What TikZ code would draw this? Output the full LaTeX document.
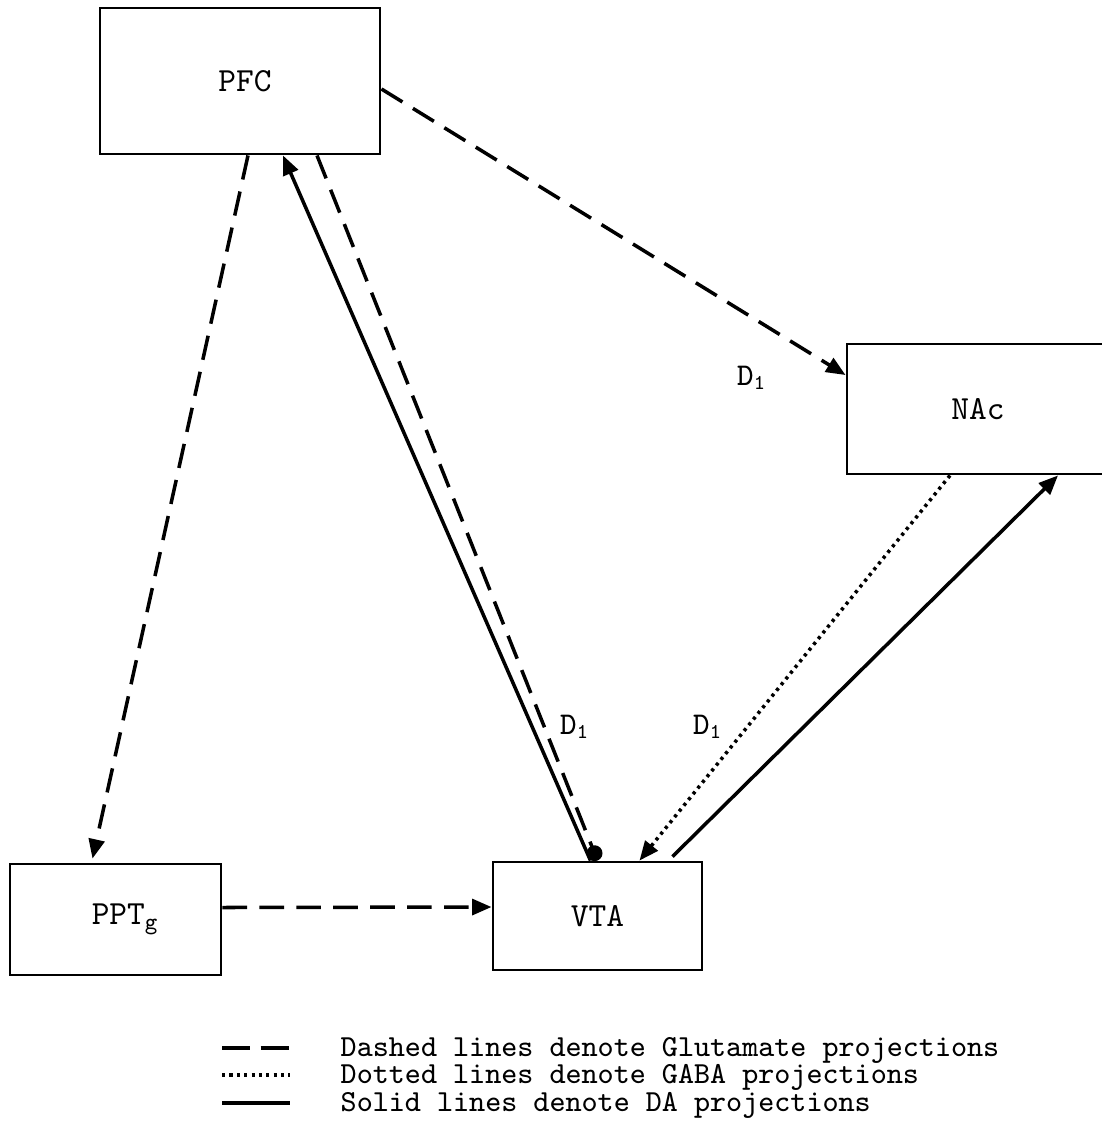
\documentclass[tikz,border=0pt]{standalone}
\usepackage{fontspec}
\usetikzlibrary{arrows.meta,calc}

\tikzset{
  region/.style={draw,thick,rectangle,inner sep=0pt,font=\ttfamily\fontsize{9.6}{11}\selectfont},
  lbl/.style={inner sep=0pt,font=\ttfamily\fontsize{9}{10}\selectfont},
  legendtext/.style={inner sep=0pt,anchor=west,font=\ttfamily\fontsize{8.7}{10}\selectfont},
  glu/.style={line width=1pt,dash pattern=on 7pt off 3.5pt},
  gaba/.style={line width=1pt,dash pattern=on 0.9pt off 1.2pt},
  da/.style={line width=1pt},
  tip/.style={-{Triangle[length=5.5pt,width=4.5pt]}}
}

\begin{document}
\begin{tikzpicture}[x=0.01cm,y=-0.01cm]
\useasboundingbox (0,0) rectangle (1102,1123);

\node[region,minimum width=2.8cm,minimum height=1.46cm] (pfc) at (240,81) {\hspace{0.1cm}PFC};
\node[region,minimum width=2.62cm,minimum height=1.3cm] (nac) at (978,409) {NAc};
\node[region,minimum width=2.11cm,minimum height=1.11cm] (ppt) at (115.5,919.5) {\hspace{0.2cm}PPT\textsubscript{g}};
\node[region,minimum width=2.09cm,minimum height=1.08cm] (vta) at (597.5,916) {VTA};

\draw[glu,tip] ($(pfc.south)+(8,0)$) -- ($(ppt.north)+(-23,-4)$);
\draw[da,tip] ($(vta.north)+(-7,0)$) -- ($(pfc.south)+(43,0)$);
\draw[glu,-{Circle[length=4.5pt]}] ($(pfc.south)+(77,0)$) -- (vta.north);
\draw[glu,tip] ($(pfc.east)+(0,8)$) -- ($(nac.west)+(0,-34)$);
\draw[gaba,tip] ($(nac.south)+(-28,0)$) -- ($(vta.north)+(42,0)$);
\draw[da,tip] ($(vta.north)+(75,-4)$) -- ($(nac.south)+(80,0)$);
\draw[glu,tip] ($(ppt.east)+(0,-12)$) -- ($(vta.west)+(0,-9)$);

\node[lbl] (d1a) at (575,727) {D\textsubscript{1}};
\node[lbl] (d1b) at (708,727) {D\textsubscript{1}};
\node[lbl] (d1c) at (752,378) {D\textsubscript{1}};

% legend
\node[legendtext] (lglu) at (340,1050) {Dashed lines denote Glutamate projections};
\node[legendtext] (lgaba) at (340,1077) {Dotted lines denote GABA projections};
\node[legendtext] (lda) at (340,1105) {Solid lines denote DA projections};
\draw[line width=1pt,dash pattern=on 8pt off 3pt] ($(lglu.west)+(-118,-2)$) -- ($(lglu.west)+(-50,-2)$);
\draw[gaba] ($(lgaba.west)+(-118,-2)$) -- ($(lgaba.west)+(-50,-2)$);
\draw[da] ($(lda.west)+(-118,-2)$) -- ($(lda.west)+(-50,-2)$);

\end{tikzpicture}
\end{document}
